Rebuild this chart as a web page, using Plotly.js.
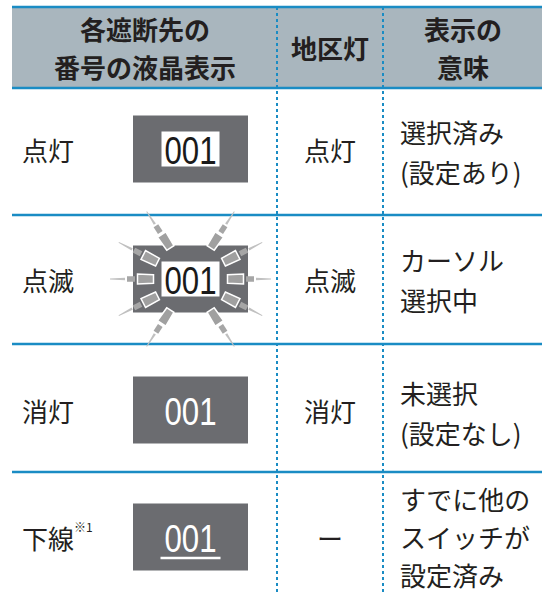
<!DOCTYPE html>
<html><head><meta charset="utf-8">
<script src="https://cdn.plot.ly/plotly-3.0.1.min.js"></script>
<style>html,body{margin:0;padding:0;background:#fff;}#chart{width:542px;height:594px;}</style>
</head><body><div id="chart"></div>
<script>
// ---- table content ----
const headers = [['各遮断先の','番号の液晶表示'], ['地区灯'], ['表示の','意味']];
const states = ['点灯', '点滅', '消灯', '下線'];
const stateNotes = ['', '', '', '※1'];
const lcdText = ['001', '001', '001', '001'];
const lcdStyle = ['lit', 'blink', 'off', 'underline'];
const districtLamp = ['点灯', '点滅', '消灯', 'ー'];
const meaning = [['選択済み', '(設定あり)'], ['カーソル', '選択中'], ['未選択', '(設定なし)'], ['すでに他の', 'スイッチが', '設定済み']];

// ---- layout geometry ----
const W = 542, H = 594;
const BLUE = '#1a8cc4', HEADBG = '#a9b6be', BOX = '#6b6c70', TXT = '#231f20';
const FONT = '"Noto Sans CJK JP", sans-serif';
const NUMFONT = '"Liberation Sans", Arial, sans-serif';
const tableLeft = 12, headTop = 7, headBottom = 88;
const rowEdges = [88, 215, 344, 472, 594];
const colEdges = [12, 277, 383, 542];
const boxX = [133, 248];

const shapes = [];
const ann = [];

shapes.push({type:'rect', x0:tableLeft, x1:W, y0:headTop, y1:headBottom, fillcolor:HEADBG, line:{width:0}, layer:'below'});
[headTop, headBottom, rowEdges[1], rowEdges[2], rowEdges[3]].forEach(y => {
  shapes.push({type:'line', x0:tableLeft, x1:W, y0:y, y1:y, line:{color:BLUE, width:2.5}});
});
[colEdges[1], colEdges[2]].forEach(x => {
  shapes.push({type:'line', x0:x, x1:x, y0:headTop, y1:H, line:{color:BLUE, width:2, dash:'dot'}});
});

function hdr(col, lines) {
  const cx = (colEdges[col] + colEdges[col+1]) / 2;
  const mid = (headTop + headBottom) / 2;
  const sp = 38;
  lines.forEach((t, i) => {
    const y = mid + (i - (lines.length - 1) / 2) * sp;
    ann.push({x:cx, y:y, text:'<b>'+t+'</b>', showarrow:false, xanchor:'center', yanchor:'middle',
      font:{family:FONT, size:26, color:TXT}});
  });
}
headers.forEach((h, i) => hdr(i, h));

function rayPath(cx, cy, ang, r1, r2, w1, w2) {
  const c = Math.cos(ang), s = Math.sin(ang), px = -s, py = c;
  const x1 = cx + c*r1, y1 = cy + s*r1, x2 = cx + c*r2, y2 = cy + s*r2;
  const p = [[x1+px*w1/2, y1+py*w1/2],[x2+px*w2/2, y2+py*w2/2],[x2-px*w2/2, y2-py*w2/2],[x1-px*w1/2, y1-py*w1/2]];
  return 'M' + p.map(q => q[0].toFixed(2)+','+q[1].toFixed(2)).join(' L') + ' Z';
}

const rayAngles = [0, 27, 57, -27, -57, 180, 153, 123, 207, 237];

states.forEach((st, i) => {
  const y0 = rowEdges[i], y1 = rowEdges[i+1];
  const boxH = 67;
  const centers = [149, 279, 410, 537];
  const cy = centers[i];
  const cx = (boxX[0] + boxX[1]) / 2;
  ann.push({x:20, y:cy, text:st, showarrow:false, xanchor:'left', yanchor:'middle', font:{family:FONT, size:26, color:TXT}});
  if (stateNotes[i]) {
    ann.push({x:72, y:cy-11, text:stateNotes[i], showarrow:false, xanchor:'left', yanchor:'middle', font:{family:FONT, size:12, color:TXT}});
  }
  shapes.push({type:'rect', x0:boxX[0], x1:boxX[1], y0:cy-boxH/2, y1:cy+boxH/2, fillcolor:BOX, line:{width:0}});
  const style = lcdStyle[i];
  if (style === 'lit' || style === 'blink') {
    shapes.push({type:'rect', x0:cx-29, x1:cx+29, y0:cy-17.5, y1:cy+17.5, fillcolor:'#ffffff', line:{width:0}});
  }
  if (style === 'blink') {
    rayAngles.forEach(a => {
      const r = a * Math.PI / 180;
      shapes.push({type:'path', path:rayPath(cx, cy, r, 37, 53, 8.5, 10), fillcolor:'#a0a0a0', line:{color:'#ffffff', width:1.5}});
      shapes.push({type:'path', path:rayPath(cx, cy, r, 55.5, 63.5, 5.5, 5.5), fillcolor:'#a6a6a6', line:{width:0}});
      shapes.push({type:'path', path:rayPath(cx, cy, r, 65.5, 80.5, 2.5, 0.8), fillcolor:'#c0c0c0', line:{width:0}});
    });
  }
  const numColor = (style === 'lit' || style === 'blink') ? '#1a1a1a' : '#ffffff';
  ann.push({x:cx, y:cy+1, text:lcdText[i], showarrow:false, xanchor:'center', yanchor:'middle', name:'lcd',
    font:{family:NUMFONT, size:39, color:numColor}});
  if (style === 'underline') {
    shapes.push({type:'line', x0:cx-30, x1:cx+30, y0:cy+21, y1:cy+21, line:{color:'#ffffff', width:2.5}});
  }
  ann.push({x:(colEdges[1]+colEdges[2])/2, y:cy, text:districtLamp[i], showarrow:false, xanchor:'center', yanchor:'middle', font:{family:FONT, size:26, color:TXT}});
  const lines = meaning[i];
  const sp = lines.length === 3 ? 38 : 40;
  const mcy = (y0 + y1) / 2 + (i === 2 ? 4 : (i === 3 ? 3 : 0));
  lines.forEach((t, k) => {
    ann.push({x:398, y:mcy + (k - (lines.length-1)/2) * sp, text:t, showarrow:false, xanchor:'left', yanchor:'middle', font:{family:FONT, size:26, color:TXT}});
  });
});

const layout = {
  width:W, height:H, margin:{l:0, r:0, t:0, b:0},
  paper_bgcolor:'#ffffff', plot_bgcolor:'#ffffff',
  xaxis:{range:[0, W], visible:false, fixedrange:true},
  yaxis:{range:[H, 0], visible:false, fixedrange:true},
  shapes:shapes, annotations:ann, showlegend:false
};
Plotly.newPlot('chart', [{x:[0], y:[0], mode:'markers', marker:{opacity:0}, hoverinfo:'skip'}], layout, {staticPlot:true, displayModeBar:false})
.then(gd => {
  // condense the LCD digits horizontally (segment-style narrow numerals)
  gd.querySelectorAll('text.annotation-text').forEach(t => {
    if (lcdText.indexOf(t.textContent) >= 0) {
      const bb = t.getBBox();
      const c = bb.x + bb.width / 2;
      t.setAttribute('transform', 'translate(' + c + ',0) scale(0.8,1) translate(' + (-c) + ',0)');
    }
  });
});
</script></body></html>
